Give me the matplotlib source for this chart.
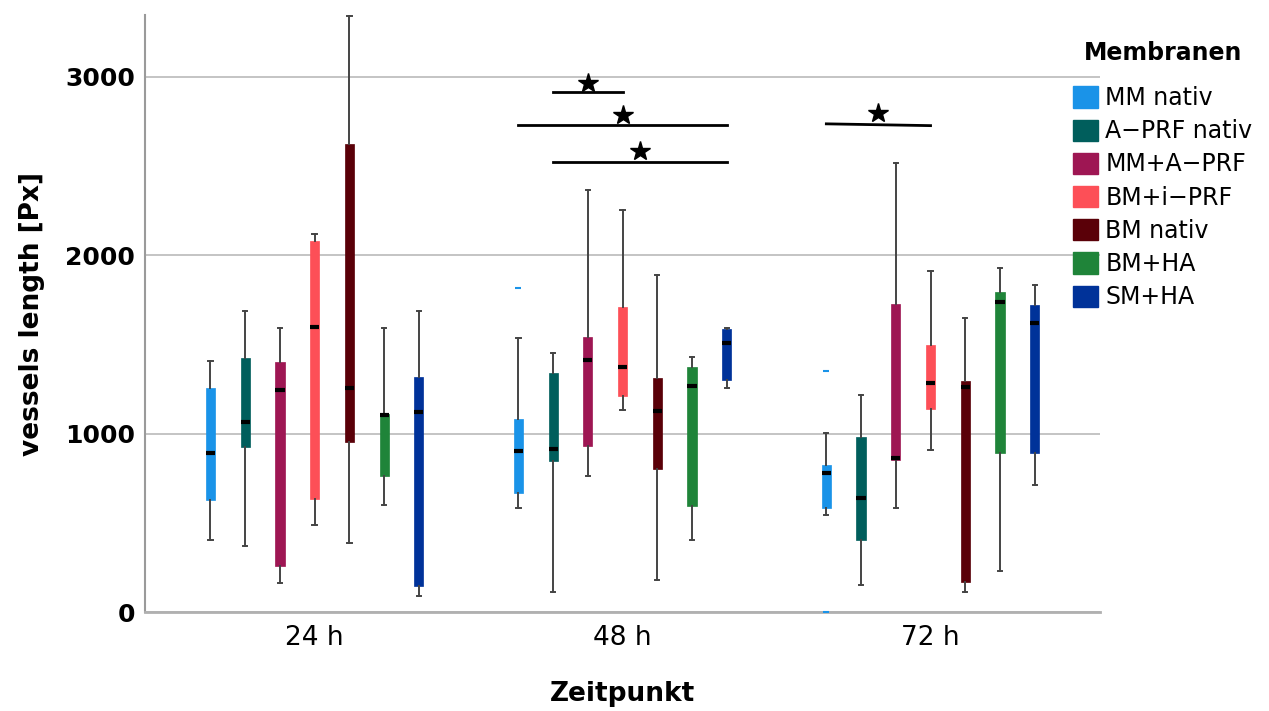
import matplotlib
matplotlib.use("Agg")
import matplotlib.pyplot as plt
from matplotlib.patches import Patch

times = ["24 h", "48 h", "72 h"]
membranes = ["MM nativ", "A\u2212PRF nativ", "MM+A\u2212PRF", "BM+i\u2212PRF",
             "BM nativ", "BM+HA", "SM+HA"]
colors = ["#1a93e8", "#005e5c", "#9e1653", "#fd4f57", "#5a0008", "#1f8439", "#003299"]

# box stats, one row per time point, one column per membrane
whis_lo = [[407, 371, 166, 487, 385, 599, 91],
           [583, 112, 764, 1130, 180, 405, 1253],
           [542, 154, 585, 910, 112, 231, 713]]
q1 = [[631, 924, 259, 634, 954, 765, 147],
      [665, 848, 928, 1212, 800, 595, 1303],
      [583, 404, 852, 1140, 169, 890, 890]]
med = [[894, 1064, 1245, 1597, 1254, 1105, 1120],
       [904, 914, 1415, 1371, 1128, 1269, 1509],
       [779, 640, 862, 1285, 1262, 1737, 1617]]
q3 = [[1258, 1424, 1401, 2079, 2624, 1109, 1318],
      [1084, 1337, 1543, 1709, 1313, 1373, 1587],
      [823, 981, 1727, 1496, 1294, 1794, 1723]]
whis_hi = [[1405, 1687, 1592, 2120, 3340, 1592, 1685],
           [1537, 1449, 2367, 2251, 1888, 1427, 1590],
           [1002, 1219, 2515, 1910, 1646, 1925, 1833]]
# outliers (only MM nativ has them)
fliers = {(1, 0): [1818], (2, 0): [1352, 0]}

# significance bars: (time index, from box, to box, line y left, line y right, star y)
sig = [(1, 1, 3, 2914, 2914, 2964),
       (1, 0, 6, 2727, 2727, 2786),
       (1, 1, 6, 2521, 2521, 2581),
       (2, 0, 3, 2735, 2725, 2794)]

step = 0.1128
bw = 0.03


def pos(t, i):
    return t + (i - 3) * step


fig = plt.figure(figsize=(12.69, 7.11), dpi=100)
ax = fig.add_axes([0.114, 0.139, 0.753, 0.840])

for t in range(3):
    for i in range(7):
        st = {"whislo": whis_lo[t][i], "q1": q1[t][i], "med": med[t][i],
              "q3": q3[t][i], "whishi": whis_hi[t][i],
              "fliers": fliers.get((t, i), [])}
        ax.bxp([st], positions=[pos(t, i)], widths=bw, patch_artist=True,
               boxprops=dict(facecolor=colors[i], edgecolor=colors[i], linewidth=0.5),
               whiskerprops=dict(color="#444444", linewidth=1.4),
               capprops=dict(color="#444444", linewidth=1.4),
               capwidths=0.014,
               medianprops=dict(color="black", linewidth=3, solid_capstyle="butt"),
               flierprops=dict(marker="_", markeredgecolor=colors[i], markersize=5,
                               markeredgewidth=1.5),
               zorder=3)

for t, a, b, y0, y1, ys in sig:
    x0, x1 = pos(t, a), pos(t, b)
    ax.plot([x0, x1], [y0, y1], color="black", linewidth=2, zorder=4)
    ax.plot([(x0 + x1) / 2], [ys], marker="*", color="black", markersize=15, zorder=4)

ax.set_xlim(-0.552, 2.551)
ax.set_ylim(0, 3345)
ax.set_yticks([0, 1000, 2000, 3000])
ax.set_xticks(range(3))
ax.set_xticklabels(times, fontsize=19)
for lab in ax.get_yticklabels():
    lab.set_fontsize(18)
    lab.set_fontweight("bold")
ax.tick_params(axis="y", length=0, pad=7)
ax.tick_params(axis="x", length=0, pad=9)
ax.yaxis.grid(True, color="#c4c4c4", linewidth=1.4)
ax.set_axisbelow(True)
for s in ["top", "right"]:
    ax.spines[s].set_visible(False)
ax.spines["left"].set_color("#9a9a9a")
ax.spines["bottom"].set_color("#b0b0b0")
ax.spines["left"].set_linewidth(1.5)
ax.spines["bottom"].set_linewidth(2)

ax.set_ylabel("vessels length [Px]", fontsize=19, fontweight="bold", labelpad=14)
ax.set_xlabel("Zeitpunkt", fontsize=19, fontweight="bold", labelpad=22)

handles = [Patch(facecolor=c, edgecolor=c) for c in colors]
leg = fig.legend(handles, membranes, title="Membranen", loc="upper left",
                 bbox_to_anchor=(0.8456, 0.942), frameon=False, fontsize=17,
                 title_fontproperties={"weight": "bold", "size": 17},
                 handlelength=1.06, handleheight=1.0, handletextpad=0.3,
                 labelspacing=0.39, borderpad=0, borderaxespad=0)
leg._legend_box.sep = 15

fig.savefig("out.png", dpi=100)
